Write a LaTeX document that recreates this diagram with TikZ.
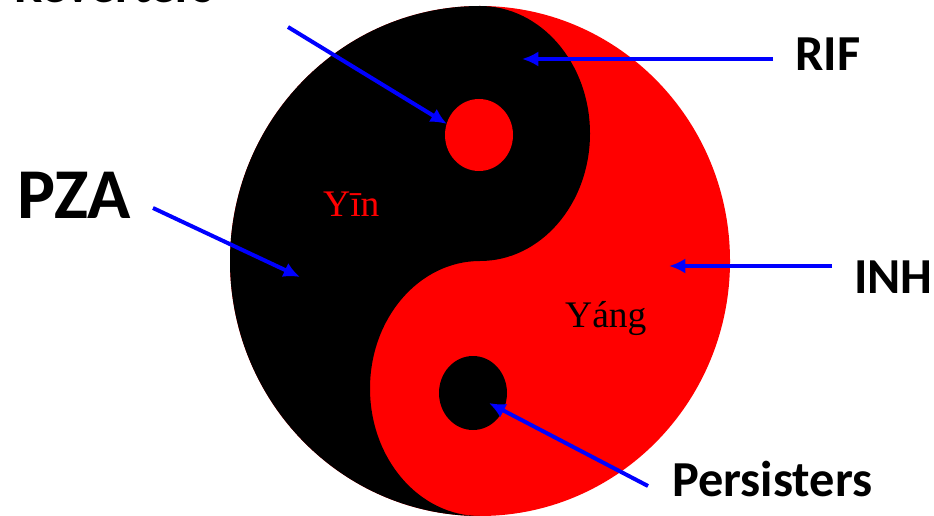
\documentclass[tikz,border=0pt]{standalone}
\usepackage{fontspec}
\setmainfont{Carlito}
\newfontfamily\pinyin{Liberation Serif}
\usetikzlibrary{arrows.meta}
\definecolor{yinred}{HTML}{FF0000}
\definecolor{ink}{HTML}{000000}
\definecolor{pointer}{HTML}{0000FF}
\tikzset{
  >=Latex,
  drug/.style={font=\fontsize{43}{49}\selectfont\bfseries,text=ink,inner sep=0pt,anchor=base west},
  bigdrug/.style={drug,font=\fontsize{61}{70}\selectfont\bfseries},
  syllable/.style={font=\pinyin\fontsize{32}{36}\selectfont,inner sep=0pt,anchor=base west},
  arrow/.style={-{Latex[length=14pt,width=13pt]},line width=3.4pt,draw=pointer},
}
\begin{document}
\begin{tikzpicture}[x=0.03cm,y=-0.03cm]
\useasboundingbox (0,0) rectangle (934,516);

\fill[yinred] (480,261) ellipse[x radius=250,y radius=255];
\fill[ink] (480,6) arc[start angle=270,end angle=90,x radius=250,y radius=255]
  arc[start angle=90,end angle=270,x radius=110,y radius=127.5]
  arc[start angle=90,end angle=-90,x radius=110,y radius=127.5] -- cycle;
\fill[yinred] (479,135) ellipse[x radius=34,y radius=36];
\fill[ink] (473,393) ellipse[x radius=34,y radius=37];

\node[syllable,text=yinred] (yin) at (323,217) {Yīn};
\node[syllable,text=ink] (yang) at (565,327) {Yáng};

\node[drug] (reverters) at (14,3) {Reverters};
\node[drug] (rif) at (795,71) {RIF};
\node[bigdrug] (pza) at (17,219) {PZA};
\node[drug] (inh) at (854,293) {INH};
\node[drug] (persisters) at (672,496) {Persisters};

\coordinate (reverters tail) at (288,27);
\coordinate (reverters tip) at (447,124);
\coordinate (rif tail) at (773,59);
\coordinate (rif tip) at (522,59);
\coordinate (pza tail) at (153,208);
\coordinate (pza tip) at (300,277);
\coordinate (inh tail) at (832,266);
\coordinate (inh tip) at (669,266);
\coordinate (persisters tail) at (648,486);
\coordinate (persisters tip) at (489,403);

\draw[arrow] (reverters tail) -- (reverters tip);
\draw[arrow] (rif tail) -- (rif tip);
\draw[arrow] (pza tail) -- (pza tip);
\draw[arrow] (inh tail) -- (inh tip);
\draw[arrow] (persisters tail) -- (persisters tip);

\end{tikzpicture}
\end{document}
